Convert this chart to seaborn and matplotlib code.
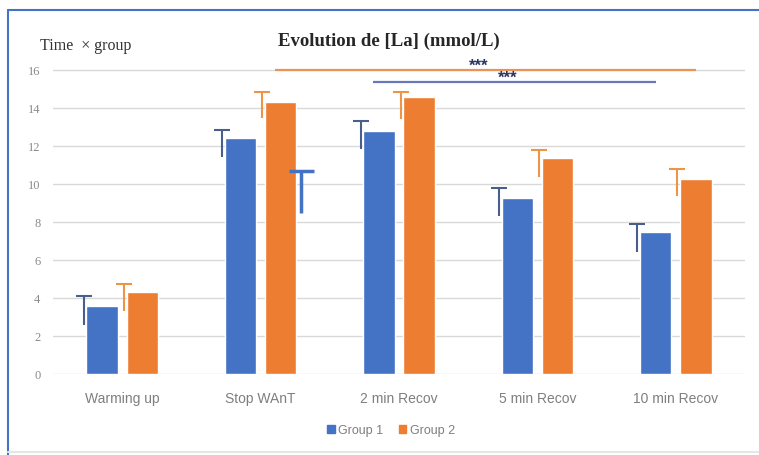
import matplotlib
matplotlib.use("Agg")
import matplotlib.pyplot as plt
import seaborn as sns
import pandas as pd
from matplotlib.lines import Line2D
from matplotlib.patches import Patch

# Data
times = ['Warming up', 'Stop WAnT', '2 min Recov', '5 min Recov', '10 min Recov']
groups = ['Group 1', 'Group 2']
group1 = [3.6, 12.4, 12.8, 9.25, 7.5]
group2 = [4.3, 14.3, 14.6, 11.35, 10.25]

# error bars as drawn: cap value and lower end of the stem
group1_err_top = [4.1, 12.85, 13.3, 9.8, 7.9]
group1_err_low = [2.6, 11.4, 11.85, 8.3, 6.4]
group2_err_top = [4.75, 14.85, 14.85, 11.8, 10.8]
group2_err_low = [3.3, 13.45, 13.4, 10.35, 9.35]

# the loose error bar sitting next to Stop WAnT
extra_err_top = 10.7
extra_err_low = 8.5

# significance bars: (from time, to time, group, level, label)
sig_bars = [
    ('Stop WAnT', '10 min Recov', 'Group 2', 16.0, '***'),
    ('2 min Recov', '10 min Recov', 'Group 1', 15.35, '***'),
]

colors = ['#4472C4', '#ED7D31']
err_colors = ['#4A5E8E', '#EE9448']
sig_colors = {'Group 1': '#6A78B8', 'Group 2': '#E8935A'}

df = pd.DataFrame({
    'time': times * 2,
    'group': [groups[0]] * len(times) + [groups[1]] * len(times),
    'value': group1 + group2,
})

sns.set_theme(style='white')
plt.rcParams['font.family'] = ['Liberation Sans', 'DejaVu Sans']

fig = plt.figure(figsize=(7.59, 4.56), dpi=100)
ax = fig.add_axes([53 / 759, 1 - 375 / 456, 692 / 759, 323 / 456])

sns.barplot(data=df, x='time', y='value', hue='group', palette=colors,
            width=0.58, gap=0.22, saturation=1, errorbar=None,
            legend=False, ax=ax)

ax.set_xlim(-0.5, len(times) - 0.5)
ax.set_ylim(0, 17)
ax.set_yticks(range(0, 17, 2))
ax.grid(axis='y', color='#d9d9d9', lw=1)
ax.set_axisbelow(True)
for s in ax.spines.values():
    s.set_visible(False)
ax.set_xlabel('')
ax.set_ylabel('')
ax.tick_params(length=0)
ax.tick_params(axis='x', pad=12, labelsize=10, labelcolor='#7f7f7f')
ax.tick_params(axis='y', pad=9, labelsize=9, labelcolor='#8a8a8a')
for lab in ax.get_yticklabels():
    lab.set_family('Liberation Serif')

# error bars at the left edge of each bar, top cap only
err_data = [(group1_err_top, group1_err_low), (group2_err_top, group2_err_low)]
for k, (tops, lows) in enumerate(err_data):
    for bar, top, low in zip(ax.containers[k], tops, lows):
        x = bar.get_x() - 0.02
        ax.vlines(x, low, top, color=err_colors[k], lw=1.5)
        ax.plot(x, top, marker='_', ms=12, mew=1.5, color=err_colors[k])

# loose error bar right of the Stop WAnT orange bar
b = ax.containers[1][times.index('Stop WAnT')]
x = b.get_x() + b.get_width() + 0.035
ax.vlines(x, extra_err_low, extra_err_top, color=colors[0], lw=2.5)
ax.plot(x, extra_err_top, marker='_', ms=18, mew=2.5, color=colors[0])

# significance bars
for start, end, grp, level, label in sig_bars:
    cont = ax.containers[groups.index(grp)]
    b0 = cont[times.index(start)]
    b1 = cont[times.index(end)]
    x0 = b0.get_x() + b0.get_width() / 2 - 0.04
    x1 = b1.get_x() + b1.get_width() / 2
    ax.plot([x0, x1], [level, level], color=sig_colors[grp], lw=1.6,
            solid_capstyle='butt', clip_on=False)
    ax.text((x0 + x1) / 2 - 0.05, level + 0.25, label, ha='center',
            va='center', fontsize=12, fontweight='bold', color='#2a3560')

fig.text(389 / 759, 1 - 41 / 456, 'Evolution de [La] (mmol/L)',
         family='Liberation Serif', weight='bold', size=13.5,
         ha='center', va='center')
fig.text(40 / 759, 1 - 46 / 456, 'Time  \u00d7 group', family='Liberation Serif',
         size=11.5, va='center', color='#333333')

handles = [Patch(color=c) for c in colors]
fig.legend(handles, groups, loc='center', bbox_to_anchor=(391 / 759, 1 - 431 / 456),
           ncol=2, frameon=False, fontsize=9, handlelength=0.6, handleheight=0.6,
           handletextpad=0.3, columnspacing=1.2, labelcolor='#7f7f7f')

# frame lines from the screenshot
fig.add_artist(Line2D([7.5 / 759, 7.5 / 759], [0, 1 - 10.5 / 456],
                      transform=fig.transFigure, color='#4472C4', lw=1.5))
fig.add_artist(Line2D([7.5 / 759, 1], [1 - 10.5 / 456, 1 - 10.5 / 456],
                      transform=fig.transFigure, color='#4472C4', lw=1.5))
fig.add_artist(Line2D([7.5 / 759, 1], [3 / 456, 3 / 456],
                      transform=fig.transFigure, color='#e6e6e6', lw=1.5))

fig.savefig('out.png', dpi=100)
